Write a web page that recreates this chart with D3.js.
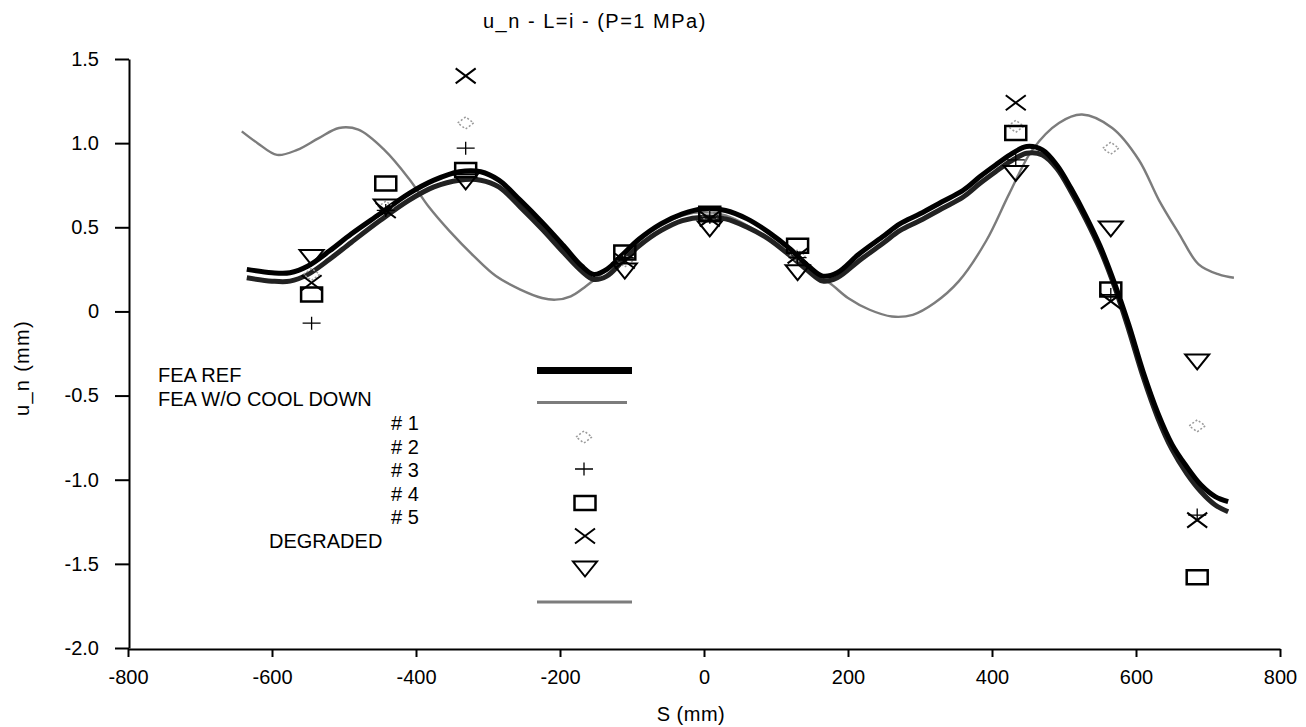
<!DOCTYPE html>
<html>
<head>
<meta charset="utf-8">
<script src="https://cdn.jsdelivr.net/npm/d3@7"></script>
<style>
body { margin: 0; background: #fff; }
text { font-family: "Liberation Sans", Arial, sans-serif; fill: #000; }
</style>
</head>
<body>
<script>
"use strict";
// S positions of the FEA curves (mm)
var sCurve = [-635, -600, -575, -550, -520, -490, -450, -410, -375, -340, -310, -285, -255, -225, -195, -170, -153, -135, -115, -90, -60, -30, 0, 30, 60, 90, 120, 145, 165, 185, 215, 250, 272, 300, 330, 360, 383, 405, 425, 448, 470, 490, 510, 530, 550, 570, 590, 610, 630, 650, 670, 690, 710, 728];
var feaRef = [0.25, 0.23, 0.23, 0.27, 0.36, 0.46, 0.58, 0.70, 0.78, 0.83, 0.83, 0.78, 0.66, 0.53, 0.39, 0.27, 0.22, 0.25, 0.33, 0.43, 0.52, 0.58, 0.61, 0.60, 0.55, 0.47, 0.37, 0.27, 0.21, 0.23, 0.34, 0.45, 0.52, 0.58, 0.65, 0.72, 0.80, 0.87, 0.93, 0.98, 0.96, 0.87, 0.73, 0.57, 0.39, 0.17, -0.08, -0.36, -0.60, -0.79, -0.92, -1.03, -1.10, -1.13];
var degraded = [0.20, 0.18, 0.18, 0.22, 0.31, 0.41, 0.54, 0.66, 0.74, 0.78, 0.78, 0.74, 0.62, 0.49, 0.35, 0.24, 0.19, 0.21, 0.29, 0.39, 0.48, 0.54, 0.56, 0.55, 0.50, 0.43, 0.33, 0.24, 0.18, 0.20, 0.30, 0.41, 0.48, 0.54, 0.61, 0.68, 0.76, 0.83, 0.89, 0.94, 0.93, 0.85, 0.71, 0.55, 0.37, 0.15, -0.11, -0.39, -0.63, -0.82, -0.96, -1.07, -1.15, -1.19];

// FEA without cool down
var sNoCool = [-642, -620, -593, -565, -535, -507, -480, -444, -410, -382, -354, -320, -289, -255, -225, -206, -185, -164, -140, -120, -90, -60, -30, 0, 30, 60, 90, 120, 150, 174, 200, 230, 261, 290, 320, 354, 392, 424, 456, 493, 525, 567, 604, 632, 660, 687, 715, 736];
var feaNoCool = [1.07, 1.00, 0.93, 0.96, 1.03, 1.09, 1.08, 0.96, 0.79, 0.62, 0.48, 0.33, 0.21, 0.13, 0.08, 0.07, 0.09, 0.15, 0.23, 0.30, 0.42, 0.51, 0.57, 0.59, 0.57, 0.51, 0.43, 0.33, 0.23, 0.17, 0.08, 0.01, -0.03, -0.02, 0.05, 0.18, 0.42, 0.70, 0.96, 1.12, 1.17, 1.09, 0.90, 0.66, 0.46, 0.28, 0.22, 0.20];

// measured points
var sensorS = [-545, -442, -331, -110, 8, 130, 433, 565, 685];
var test1 = [0.22, 0.62, 1.12, 0.30, 0.56, 0.33, 1.10, 0.97, -0.68];
var test2 = [-0.07, 0.60, 0.97, 0.32, 0.56, 0.32, 0.90, 0.10, -1.21];
var test3 = [0.10, 0.76, 0.84, 0.35, 0.58, 0.39, 1.06, 0.13, -1.58];
var test4 = [0.17, 0.60, 1.40, 0.30, 0.55, 0.33, 1.24, 0.06, -1.24];
var test5 = [0.32, 0.62, 0.77, 0.24, 0.49, 0.23, 0.82, 0.49, -0.30];

var xTicks = [-800, -600, -400, -200, 0, 200, 400, 600, 800];
var yTicks = [-2.0, -1.5, -1.0, -0.5, 0, 0.5, 1.0, 1.5];
var legendLabels = ["FEA REF", "FEA W/O COOL DOWN", "# 1", "# 2", "# 3", "# 4", "# 5", "DEGRADED"];

function markerPath(type) {
    if (type == "square") return "M-10.5,-7H10.5V7H-10.5Z";
    if (type == "cross") return "M-10,-7.5L10,7.5M-10,7.5L10,-7.5";
    if (type == "plus") return "M-9,0H9M0,-6.5V6.5";
    if (type == "tri") return "M-12,-7.5H12L0,7.5Z";
    return "M-8,0L0,-6L8,0L0,6Z"; // diamond
}

function styleMarker(sel, type) {
    sel.attr("d", markerPath(type))
        .attr("fill", "none")
        .attr("stroke", type == "diamond" ? "#9a9a9a" : "#000")
        .attr("stroke-width", type == "square" ? 2.5 : type == "plus" ? 1.3 : type == "diamond" ? 1.5 : 2)
        .attr("stroke-dasharray", type == "diamond" ? "2,2" : null);
}

function draw() {
    var width = 1306, height = 727;
    var svg = d3.select("body").append("svg")
        .attr("width", width)
        .attr("height", height);
    svg.append("rect").attr("width", width).attr("height", height).attr("fill", "#fff");

    var x = d3.scaleLinear().domain([-800, 800]).range([128, 1280]);
    var y = d3.scaleLinear().domain([-2, 1.5]).range([648, 59]);

    // axes
    var xAxis = svg.append("g")
        .attr("transform", "translate(0,649)")
        .call(d3.axisBottom(x).tickValues(xTicks).tickSize(8).tickPadding(13).tickSizeOuter(0)
            .tickFormat(function(d) { return String(d); }));
    var yAxis = svg.append("g")
        .attr("transform", "translate(129,0)")
        .call(d3.axisLeft(y).tickValues(yTicks).tickSize(14).tickPadding(16).tickSizeOuter(0)
            .tickFormat(function(d) { return d === 0 ? "0" : d.toFixed(1); }));
    [xAxis, yAxis].forEach(function(a) {
        a.attr("font-size", 20).attr("font-family", "Liberation Sans, Arial, sans-serif");
        a.selectAll("path, line").attr("stroke", "#000").attr("stroke-width", 2);
        a.selectAll("text").attr("fill", "#000");
    });

    // titles
    svg.append("text").attr("x", 483).attr("y", 28)
        .style("font-size", "20px").style("letter-spacing", "1.5px")
        .text("u_n - L=i - (P=1 MPa)");
    svg.append("text").attr("x", 691).attr("y", 721)
        .attr("text-anchor", "middle").style("font-size", "20px").style("letter-spacing", "0.5px")
        .text("S (mm)");
    svg.append("text").attr("transform", "translate(29,368) rotate(-90)")
        .attr("text-anchor", "middle").style("font-size", "20px").style("letter-spacing", "1.3px")
        .text("u_n (mm)");

    // curves
    var line = d3.line().curve(d3.curveCatmullRom.alpha(0.5));
    svg.append("path")
        .attr("d", line(sNoCool.map(function(s, i) { return [x(s), y(feaNoCool[i])]; })))
        .attr("fill", "none").attr("stroke", "#7c7c7c").attr("stroke-width", 2.4);
    svg.append("path")
        .attr("d", line(sCurve.map(function(s, i) { return [x(s), y(degraded[i])]; })))
        .attr("fill", "none").attr("stroke", "#222").attr("stroke-width", 5);
    svg.append("path")
        .attr("d", line(sCurve.map(function(s, i) { return [x(s), y(feaRef[i])]; })))
        .attr("fill", "none").attr("stroke", "#000").attr("stroke-width", 5);

    // markers
    var series = [
        {vals: test1, type: "diamond"},
        {vals: test2, type: "plus"},
        {vals: test3, type: "square"},
        {vals: test4, type: "cross"},
        {vals: test5, type: "tri"}
    ];
    series.forEach(function(ser) {
        svg.append("g").selectAll("path")
            .data(ser.vals)
            .enter().append("path")
            .attr("transform", function(d, i) { return "translate(" + x(sensorS[i]) + "," + y(d) + ")"; })
            .call(styleMarker, ser.type);
    });

    // legend
    var leg = svg.append("g");
    var textPos = [[158, 382], [158, 406], [391, 430], [391, 454], [391, 477], [391, 501], [391, 524], [269, 548]];
    leg.selectAll("text").data(legendLabels).enter().append("text")
        .attr("x", function(d, i) { return textPos[i][0]; })
        .attr("y", function(d, i) { return textPos[i][1]; })
        .style("font-size", "20px")
        .text(function(d) { return d; });
    leg.append("line").attr("x1", 537).attr("x2", 632).attr("y1", 370.5).attr("y2", 370.5)
        .attr("stroke", "#000").attr("stroke-width", 7);
    leg.append("line").attr("x1", 537).attr("x2", 627).attr("y1", 402.5).attr("y2", 402.5)
        .attr("stroke", "#7c7c7c").attr("stroke-width", 3);
    leg.append("line").attr("x1", 537).attr("x2", 632).attr("y1", 602).attr("y2", 602)
        .attr("stroke", "#7c7c7c").attr("stroke-width", 3);
    var symPos = [[584, 437], [584, 469], [585, 503], [585, 536], [585, 569]];
    series.forEach(function(ser, i) {
        leg.append("path")
            .attr("transform", "translate(" + symPos[i][0] + "," + symPos[i][1] + ")")
            .call(styleMarker, ser.type);
    });
}
draw();
</script>
</body>
</html>
